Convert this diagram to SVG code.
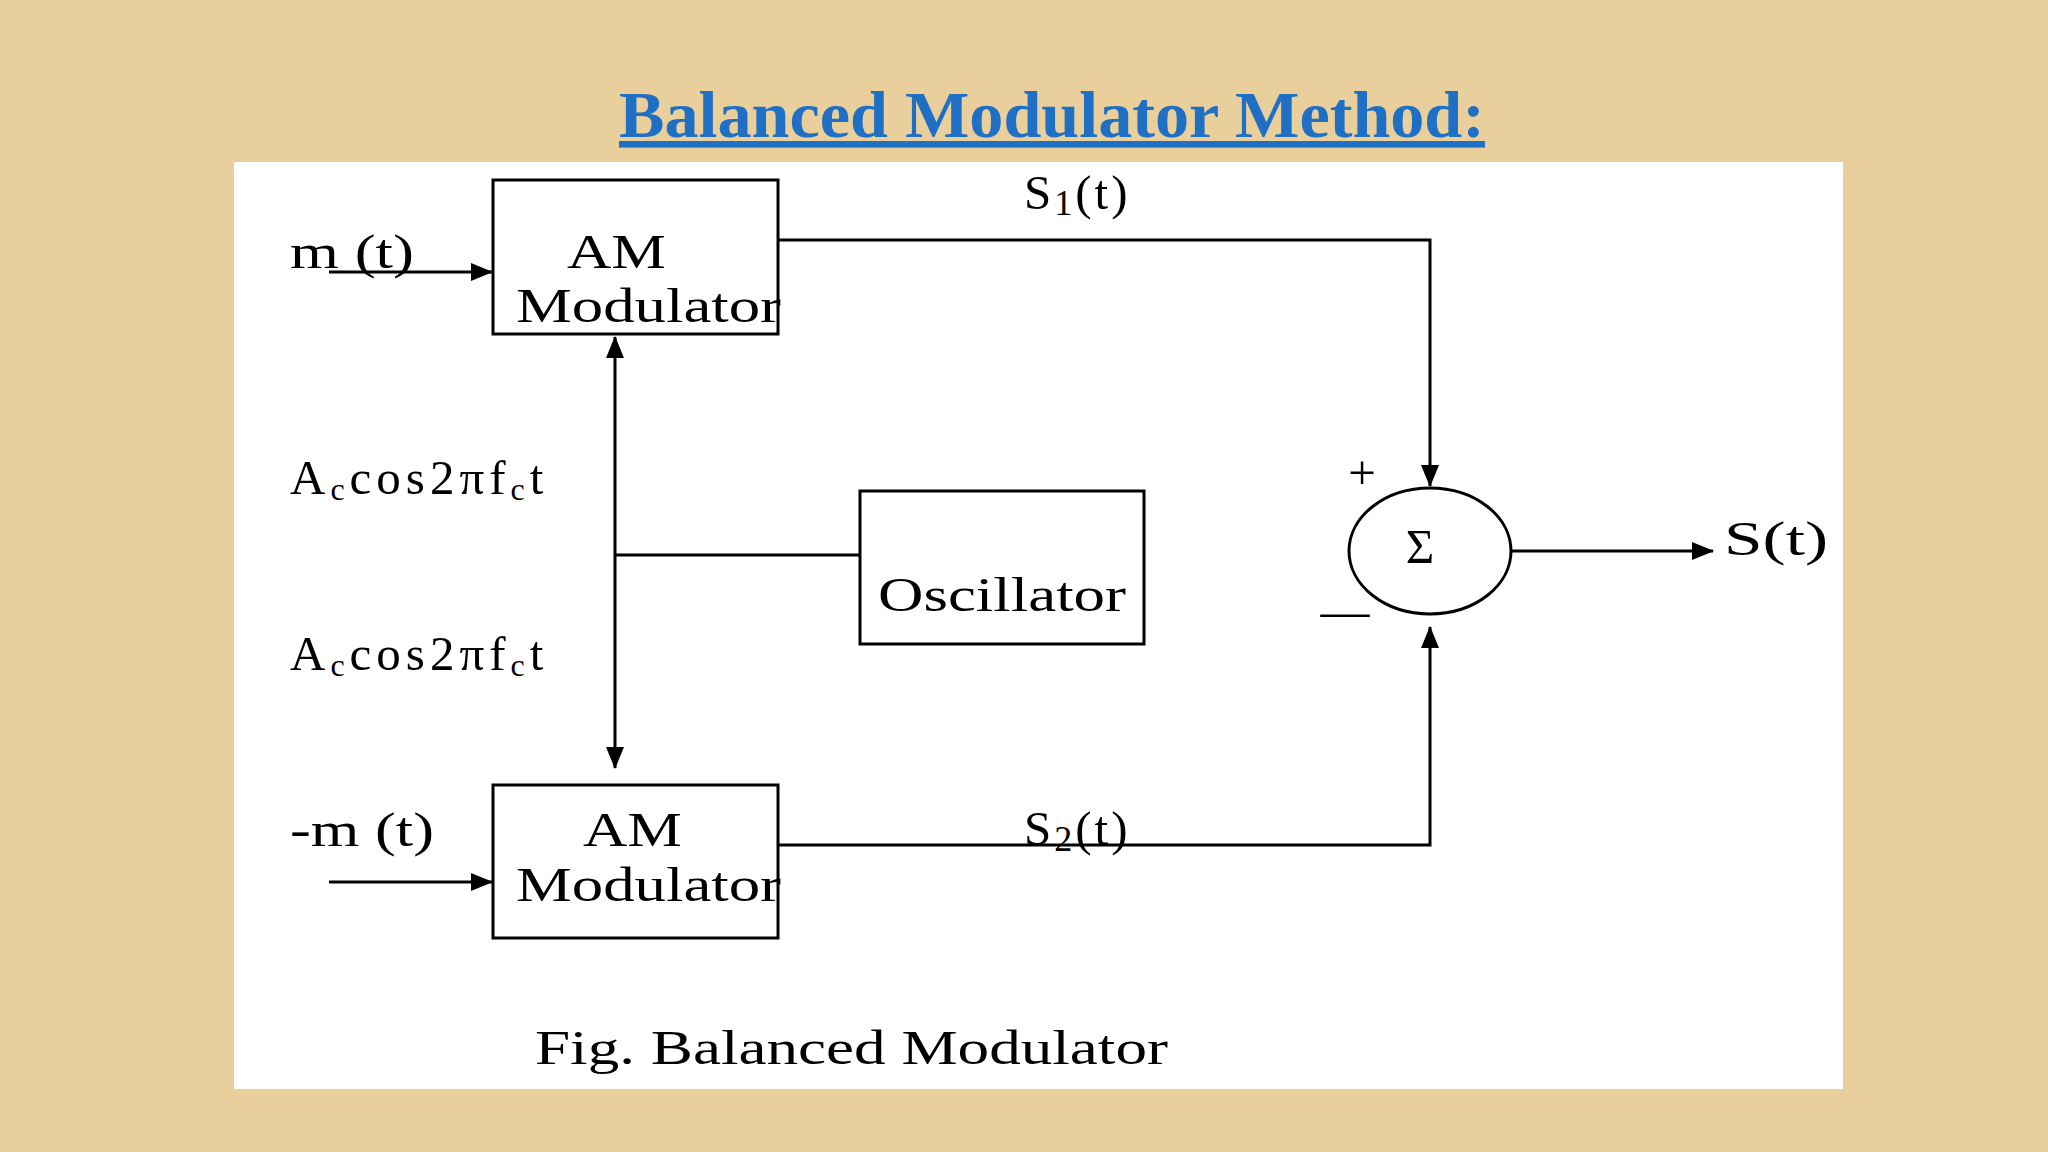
<svg xmlns="http://www.w3.org/2000/svg" width="2048" height="1152" viewBox="0 0 2048 1152">
<defs>
<marker id="ahb" markerWidth="22" markerHeight="18" refX="21" refY="9" orient="auto-start-reverse" markerUnits="userSpaceOnUse"><path d="M0,0 L22,9 L0,18 Z" fill="#000"/></marker>
</defs>
<style>
.t{font-family:"Liberation Serif",serif;fill:#000;font-size:49px}
.box{fill:none;stroke:#000;stroke-width:3}
.ln{fill:none;stroke:#000;stroke-width:3}
</style>
<rect width="2048" height="1152" fill="#e8cf9c"/>
<rect x="234" y="162" width="1609" height="927" fill="#fff"/>
<text x="619" y="137" textLength="866" lengthAdjust="spacingAndGlyphs" font-family="Liberation Serif,serif" font-weight="bold" font-size="66" fill="#1f6fc5" text-decoration="underline">Balanced Modulator Method:</text>
<g id="connectors">
<path class="ln" d="M778,240 H1430 V486" marker-end="url(#ahb)"/>
<path class="ln" d="M778,845 H1430 V627" marker-end="url(#ahb)"/>
<path class="ln" d="M1512,551 H1713" marker-end="url(#ahb)"/>
<path class="ln" d="M615,337 V768" marker-start="url(#ahb)" marker-end="url(#ahb)"/>
<path class="ln" d="M615,555 H859"/>
<path class="ln" d="M329,272 H492" marker-end="url(#ahb)"/>
<path class="ln" d="M329,882 H492" marker-end="url(#ahb)"/>
</g>
<g id="am1"><rect class="box" x="493" y="180" width="285" height="154"/><text class="t" x="567" y="268" textLength="99" lengthAdjust="spacingAndGlyphs">AM</text><text class="t" x="516" y="322" textLength="265" lengthAdjust="spacingAndGlyphs">Modulator</text></g>
<g id="am2"><rect class="box" x="493" y="785" width="285" height="153"/><text class="t" x="583" y="846" textLength="99" lengthAdjust="spacingAndGlyphs">AM</text><text class="t" x="516" y="901" textLength="265" lengthAdjust="spacingAndGlyphs">Modulator</text></g>
<g id="osc"><rect class="box" x="860" y="491" width="284" height="153"/><text class="t" x="878" y="611" textLength="248" lengthAdjust="spacingAndGlyphs">Oscillator</text></g>
<g id="sum"><ellipse class="box" cx="1430" cy="551" rx="81" ry="63"/><text class="t" x="1420" y="563" text-anchor="middle" font-family="DejaVu Serif,serif" font-size="58">Σ</text>
<text class="t" x="1362" y="489" text-anchor="middle" font-size="28">+</text><text class="t" x="1345" y="627" text-anchor="middle" font-size="34">—</text></g>
<g id="labels">
<text class="t" x="290" y="268" textLength="124" lengthAdjust="spacingAndGlyphs">m (t)</text>
<text class="t" x="290" y="846" textLength="144" lengthAdjust="spacingAndGlyphs">-m (t)</text>
<text class="t" x="1024" y="209" font-size="55" letter-spacing="3">S<tspan font-size="36" dy="6">1</tspan><tspan dy="-6">(t)</tspan></text>
<text class="t" x="1024" y="845" font-size="55" letter-spacing="3">S<tspan font-size="36" dy="6">2</tspan><tspan dy="-6">(t)</tspan></text>
<text class="t" x="290" y="494" font-size="53" letter-spacing="5">A<tspan font-size="32" dy="6">c</tspan><tspan dy="-6">cos2πf</tspan><tspan font-size="32" dy="6">c</tspan><tspan dy="-6">t</tspan></text>
<text class="t" x="290" y="670" font-size="53" letter-spacing="5">A<tspan font-size="32" dy="6">c</tspan><tspan dy="-6">cos2πf</tspan><tspan font-size="32" dy="6">c</tspan><tspan dy="-6">t</tspan></text>
<text class="t" x="1724" y="555" font-size="52" textLength="104" lengthAdjust="spacingAndGlyphs">S(t)</text>
<text class="t" x="535" y="1064" font-size="47" textLength="633" lengthAdjust="spacingAndGlyphs">Fig. Balanced Modulator</text>
</g>
</svg>
